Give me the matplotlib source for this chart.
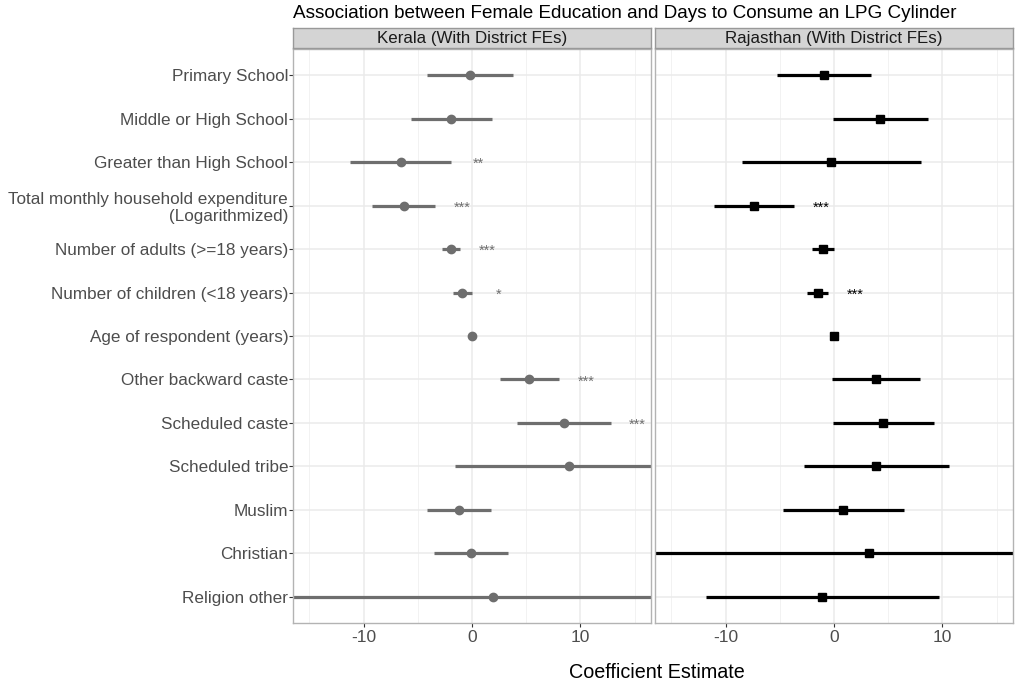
import numpy as np
import matplotlib
matplotlib.use('Agg')
import matplotlib.pyplot as plt

plt.rcParams['font.family'] = ['Liberation Sans', 'DejaVu Sans']

terms = [
    "Primary School",
    "Middle or High School",
    "Greater than High School",
    "Total monthly household expenditure\n(Logarithmized)",
    "Number of adults (>=18 years)",
    "Number of children (<18 years)",
    "Age of respondent (years)",
    "Other backward caste",
    "Scheduled caste",
    "Scheduled tribe",
    "Muslim",
    "Christian",
    "Religion other",
]

# Kerala estimates with 95% CI
kerala_est = [-0.18, -1.91, -6.55, -6.31, -1.97, -0.92, 0.0, 5.3, 8.46, 8.93, -1.2, -0.09, 1.94]
kerala_lo = [-4.18, -5.66, -11.2, -9.2, -2.8, -1.75, -0.05, 2.62, 4.15, -1.57, -4.18, -3.54, -18.5]
kerala_hi = [3.79, 1.85, -1.91, -3.38, -1.14, 0.0, 0.05, 8.0, 12.77, 19.4, 1.75, 3.35, 22.4]
kerala_sig = ["", "", "**", "***", "***", "*", "", "***", "***", "", "", "", ""]

# Rajasthan estimates with 95% CI
raj_est = [-0.92, 4.28, -0.25, -7.39, -1.02, -1.51, -0.03, 3.9, 4.52, 3.9, 0.86, 3.23, -1.08]
raj_lo = [-5.3, -0.09, -8.52, -11.1, -2.0, -2.46, -0.08, -0.15, -0.12, -2.8, -4.7, -20.0, -11.8]
raj_hi = [3.45, 8.65, 8.0, -3.69, 0.03, -0.55, 0.02, 7.97, 9.2, 10.6, 6.49, 26.5, 9.7]
raj_sig = ["", "", "", "***", "", "***", "", "", "", "", "", "", ""]

panels = [
    ("Kerala (With District FEs)", kerala_est, kerala_lo, kerala_hi, kerala_sig, "#6E6E6E", "o", 6.0),
    ("Rajasthan (With District FEs)", raj_est, raj_lo, raj_hi, raj_sig, "black", "s", 5.2),
]

fig = plt.figure(figsize=(10.17, 6.83), dpi=100)
W, H = 1017, 683

def px_box(x0, y0, x1, y1):
    return [x0 / W, 1 - y1 / H, (x1 - x0) / W, (y1 - y0) / H]

panel_x = [(293, 651), (655, 1013)]
ypos = np.arange(len(terms))

for k, (name, est, lo, hi, sig, col, mk, ms) in enumerate(panels):
    x0, x1 = panel_x[k]
    ax = fig.add_axes(px_box(x0, 49, x1, 623))
    ax.set_xlim(-16.5, 16.5)
    ax.set_ylim(len(terms) - 0.4, -0.6)

    # grid
    for v in [-15, -5, 5, 15]:
        ax.axvline(v, color="#F0F0F0", lw=0.6, zorder=0)
    for v in [-10, 0, 10]:
        ax.axvline(v, color="#EBEBEB", lw=1.1, zorder=0)
    for y in ypos:
        ax.axhline(y, color="#EBEBEB", lw=1.1, zorder=0)

    ax.hlines(ypos, lo, hi, color=col, lw=2.3, zorder=2)
    ax.plot(est, ypos, ls="none", marker=mk, color=col, ms=ms, zorder=3)
    for y, h, s in zip(ypos, hi, sig):
        if s:
            ax.text(h + 2.5, y + 0.05, s, color=col, fontsize=10.5,
                    ha="center", va="center", zorder=3)

    ax.set_xticks([-10, 0, 10])
    ax.set_xticklabels(["-10", "0", "10"])
    ax.tick_params(axis="x", colors="#333333", labelcolor="#4D4D4D",
                   labelsize=12.5, length=3, width=0.8, pad=2)
    ax.set_yticks(ypos)
    if k == 0:
        ax.set_yticklabels(terms)
        ax.tick_params(axis="y", colors="#333333", labelcolor="#4D4D4D",
                       labelsize=12.3, length=3, width=0.8, pad=0.5)
    else:
        ax.set_yticklabels([])
        ax.tick_params(axis="y", length=0)
    for sp in ax.spines.values():
        sp.set_color("#B3B3B3")
        sp.set_linewidth(1.0)

    # facet strip
    sax = fig.add_axes(px_box(x0, 28, x1, 48))
    sax.set_facecolor("#D4D4D4")
    sax.set_xticks([])
    sax.set_yticks([])
    for sp in sax.spines.values():
        sp.set_color("#999999")
        sp.set_linewidth(1.0)
    sax.text(0.5, 0.5, name, transform=sax.transAxes, ha="center",
             va="center", fontsize=12.2, color="#1A1A1A")

fig.text(293 / W, 1 - 14 / H, "Association between Female Education and Days to Consume an LPG Cylinder",
         ha="left", va="center", fontsize=13.6, color="black")
fig.text(657 / W, 1 - 672 / H, "Coefficient Estimate", ha="center", va="center",
         fontsize=14.2, color="black")

fig.savefig("out.png", dpi=100)
